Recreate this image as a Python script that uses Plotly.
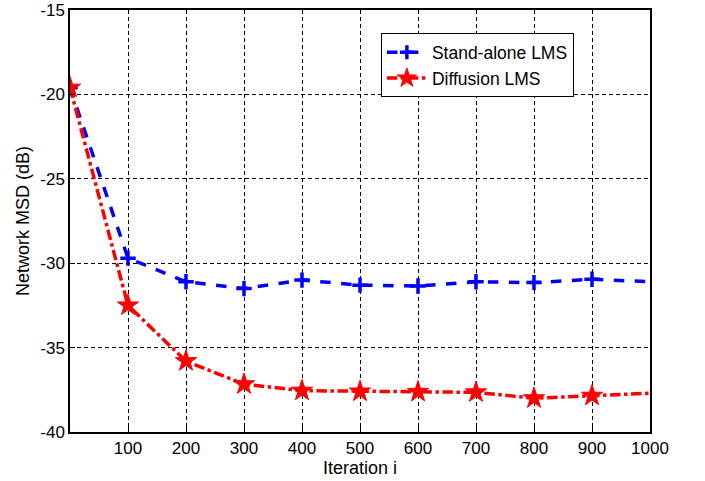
import plotly.graph_objects as go

iterations = [0, 100, 200, 300, 400, 500, 600, 700, 800, 900, 1000]
standalone_msd = [-19.6, -29.7, -31.1, -31.5, -31.0, -31.3, -31.35, -31.1, -31.15, -30.95, -31.1]
diffusion_msd = [-19.6, -32.5, -35.8, -37.17, -37.55, -37.6, -37.62, -37.65, -38.0, -37.85, -37.7]
x_ticks = [100, 200, 300, 400, 500, 600, 700, 800, 900, 1000]
y_ticks = [-40, -35, -30, -25, -20, -15]

font = "Liberation Sans, Arial, Helvetica, sans-serif"
n = len(iterations)
sizes_b = [11] * (n - 1) + [0]
sizes_r = [16] * (n - 1) + [0]

fig = go.Figure()
fig.add_trace(go.Scatter(
    x=iterations, y=standalone_msd, mode="lines+markers", name="Stand-alone LMS",
    line=dict(color="#0000ff", width=3.5, dash="dash"),
    marker=dict(symbol="cross-thin", size=sizes_b, color="#0000ff", opacity=1,
                line=dict(color="#0000ff", width=3.5)),
))
fig.add_trace(go.Scatter(
    x=iterations, y=diffusion_msd, mode="lines+markers", name="Diffusion LMS",
    line=dict(color="#ff0000", width=3.5, dash="dashdot"),
    marker=dict(symbol="star", size=sizes_r, color="#ff0000", opacity=1,
                line=dict(color="#ff0000", width=1)),
))

fig.update_layout(
    width=705, height=481,
    margin=dict(l=70, r=55, t=10, b=49),
    paper_bgcolor="white", plot_bgcolor="white",
    font=dict(family=font, size=17, color="black"),
    showlegend=True,
    legend=dict(x=0.7024, y=0.8685, xanchor="center", yanchor="middle",
                bgcolor="white", bordercolor="black", borderwidth=1,
                font=dict(size=17.5), tracegroupgap=0, itemwidth=40),
    xaxis=dict(
        range=[0, 1000], tickvals=x_ticks, ticktext=[str(v) for v in x_ticks],
        showgrid=True, gridcolor="black", griddash="4px,3px", gridwidth=0.8,
        showline=True, linecolor="black", linewidth=1.5, mirror=True,
        ticks="inside", ticklen=5, tickcolor="black", zeroline=False,
        automargin=False, ticklabeloverflow="allow",
        title=dict(text="Iteration i", font=dict(size=18), standoff=1),
        tickfont=dict(size=17),
    ),
    yaxis=dict(
        range=[-40, -15], tickvals=y_ticks, ticktext=[str(v) for v in y_ticks],
        showgrid=True, gridcolor="black", griddash="4px,3px", gridwidth=0.8,
        showline=True, linecolor="black", linewidth=1.5, mirror=True,
        ticks="inside", ticklen=5, tickcolor="black", zeroline=False,
        automargin=False, ticklabeloverflow="allow",
        title=dict(text="Network MSD (dB)", font=dict(size=18), standoff=6),
        tickfont=dict(size=17),
    ),
)

fig.write_html("out.html", config={"displayModeBar": False},
               post_script="document.body.style.margin='0';")
